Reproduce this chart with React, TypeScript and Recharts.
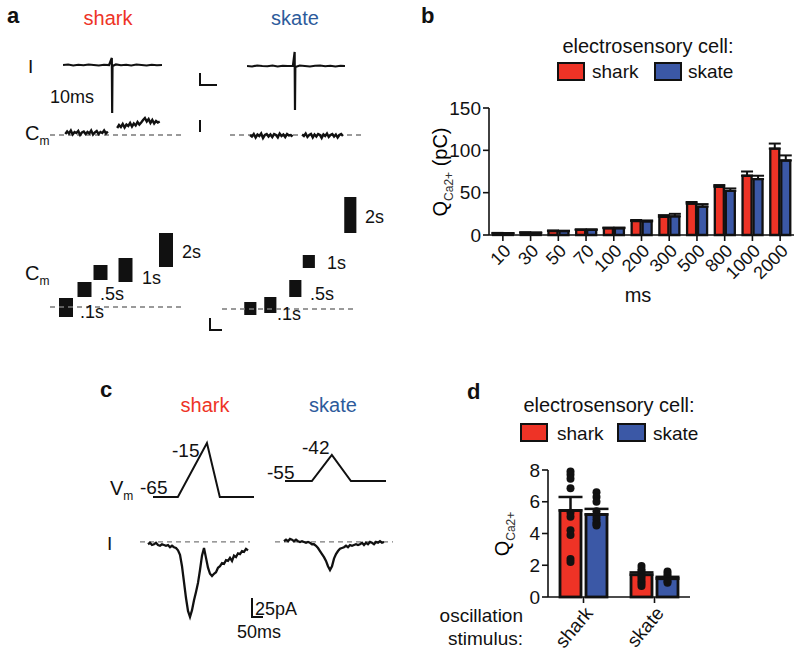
import React from 'react';
import {
  BarChart, Bar, LineChart, Line, XAxis, YAxis, ErrorBar, ReferenceLine,
} from 'recharts';

// ---- panel b: charge vs pulse duration ----
const msLabels = ['10', '30', '50', '70', '100', '200', '300', '500', '800', '1000', '2000'];
const sharkQ = [2, 2.7, 4.7, 6, 8, 16.5, 21.5, 37, 57, 70, 102];
const skateQ = [1.8, 2.5, 4.5, 6, 8, 16, 22, 33.5, 52, 66, 88];
const sharkQErr = [0.5, 0.5, 0.6, 0.7, 0.8, 1.2, 2, 2, 2, 5, 6];
const skateQErr = [0.5, 0.5, 0.6, 0.7, 0.8, 1.2, 3, 3, 3, 4, 6];

// ---- panel d: charge for oscillation stimulus ----
const stimulusLabels = ['shark', 'skate'];
const sharkCellQ = [5.45, 1.4];
const skateCellQ = [5.2, 1.15];
const sharkCellErr = [0.85, 0.15];
const skateCellErr = [0.35, 0.12];
const sharkCellDots = [
  [7.9, 7.7, 7.45, 6.85, 5.3, 5.05, 4.2, 3.9, 2.4, 2.2],
  [1.95, 1.75, 1.6, 1.45, 1.3, 1.15, 1.0, 0.85, 0.7],
];
const skateCellDots = [
  [6.6, 6.3, 6.0, 5.4, 5.1, 4.9, 4.7, 4.6, 4.5],
  [1.6, 1.45, 1.3, 1.15, 1.0, 0.9],
];

// ---- panel a: single pulse current (ms, pA) ----
const iTopShark: [number, number][] = [
  [0, 0], [3, 10], [6, -10], [9, 5], [12, -5], [15, 10], [18, 0], [21, -10], [24, 5], [27, 0],
  [28.6, 140], [28.8, -960], [29, -20], [31, 10], [34, -5], [37, 5], [40, -10], [43, 10],
  [46, 0], [49, -10], [52, 5], [55, -5], [58, 0],
];
const iTopSkate: [number, number][] = [
  [0, 0], [3, -10], [6, 10], [9, 0], [12, -5], [15, 10], [18, -10], [21, 5], [24, 0], [27, 5],
  [28.0, 280], [28.2, -880], [28.4, -20], [31, 10], [34, 0], [37, -10], [40, 5], [43, 10],
  [46, -5], [49, 5], [52, -10], [55, 5], [57.6, 0],
];

// ---- panel a: capacitance before / after pulse (fF) ----
const cmSharkBefore = [2, 7, 3, 9, 1, 6, 4, 8, 0, 5, 7, 2, 6, 3, 9, 1, 5, 8, 2, 6, 4, 9, 3, 7];
const cmSharkAfter = [14, 20, 16, 22, 15, 21, 18, 24, 17, 23, 19, 26, 21, 25, 30, 34, 27, 32, 24, 30, 23, 28, 25, 27];
const cmSkateBefore = [0, -3, 2, -5, 1, -2, 3, -6, 0, 2, -3, 1, -4, 2, 0, -5, 3, -2, 1, -4, 2, -1, 0, -3];
const cmSkateAfter = [1, -2, 3, -4, 0, 2, -5, 1, -3, 2, 0, -6, 1, -2, 3, -4, 0, 2, -3, 1, -5, 0, 2, -2];

// ---- panel a: capacitance steps for .1s ... 2s pulses ----
const stepSharkT = [1.6, 3.45, 5.05, 7.55, 11.6];
const stepSharkCm: [number, number][] = [[-20, 18], [20, 50], [54, 84], [50, 98], [80, 148]];
const stepSkateT = [2.8, 4.8, 7.3, 8.65, 12.8];
const stepSkateCm: [number, number][] = [[-12, 14], [-8, 24], [24, 58], [82, 108], [152, 224]];

// ---- panel c: voltage commands (ms, mV) ----
const vmSharkT = [0, 112, 243, 301, 455];
const vmSharkV = [-65, -65, -15, -65, -65];
const vmSkateT = [0, 121, 211, 297, 455];
const vmSkateV = [-55, -55, -42, -55, -55];

// ---- panel c: evoked currents, 9 ms sampling (pA) ----
const iSharkC = [
  -3, -1, -4, -3, -1, -4, -5, -3, -4, -5, -4, -7, -5, -7, -8, -11, -17, -32, -53, -74, -91, -99,
  -90, -77, -66, -54, -37, -18, -8, -21, -34, -42, -45, -42, -40, -34, -32, -28, -29, -24, -25,
  -21, -25, -18, -20, -15, -16, -12, -13, -9, -11,
];
const iSkateC = [
  1, 3, 1, 4, 3, 1, 3, 1, 0, 1, 0, -1, 0, -1, -3, -3, -5, -8, -12, -16, -20, -25, -32, -37, -32,
  -22, -16, -12, -9, -8, -7, -5, -7, -4, -5, -4, -3, -4, -3, -1, -4, -1, -3, 0, -1, -3, 0, -1, 1,
  -1, 0,
];

const RED = '#ee3326';
const BLUE = '#3b58a6';
const INK = '#111';
const FONT = '"Liberation Sans", Arial, Helvetica, sans-serif';

const seg = (start: number, dt: number, vals: number[]) => vals.map((v, i) => ({ t: start + i * dt, v }));
const pairs = (ts: number[], vs: number[]) => ts.map((t, i) => ({ t, v: vs[i] }));

const qData = msLabels.map((ms, i) => ({
  ms, shark: sharkQ[i], skate: skateQ[i],
  sharkErr: [0, sharkQErr[i]], skateErr: [0, skateQErr[i]],
}));
const dData = stimulusLabels.map((s, i) => ({
  s, shark: sharkCellQ[i], skate: skateCellQ[i],
  sharkErr: [0, sharkCellErr[i]], skateErr: [0, skateCellErr[i]],
  sharkDots: sharkCellDots[i], skateDots: skateCellDots[i],
}));

type TP = { x: number; y: number; size?: number; color?: string; bold?: boolean; anchor?: 'start' | 'middle' | 'end'; children: React.ReactNode };
const T = ({ x, y, size = 19, color = INK, bold, anchor = 'start', children }: TP) => {
  const tx = anchor === 'start' ? '0' : anchor === 'middle' ? '-50%' : '-100%';
  return (
    <div style={{
      position: 'absolute', left: x, top: y, transform: `translate(${tx},-50%)`, fontSize: size,
      lineHeight: 1, color, fontWeight: bold ? 700 : 400, whiteSpace: 'nowrap',
    }}>{children}</div>
  );
};
const Sub = ({ children }: { children: React.ReactNode }) => (
  <span style={{ fontSize: '0.6em', position: 'relative', top: '0.4em' }}>{children}</span>
);
const Box = ({ x, y, w, h, color }: { x: number; y: number; w: number; h: number; color: string }) => (
  <div style={{ position: 'absolute', left: x, top: y, width: w, height: h, background: color, border: `2.5px solid ${INK}`, boxSizing: 'border-box' }} />
);
const ScaleL = ({ x, y, w, h, bottom = true }: { x: number; y: number; w: number; h: number; bottom?: boolean }) => (
  <div style={{
    position: 'absolute', left: x, top: y, width: w, height: h, boxSizing: 'border-box',
    borderLeft: `2px solid ${INK}`, borderBottom: bottom ? `2px solid ${INK}` : 'none',
  }} />
);

type TraceProps = {
  left: number; top: number; width: number; height: number;
  data: { t: number; v: number | null }[]; xDomain: [number, number]; yDomain: [number, number];
  baseline?: boolean; sw?: number;
};
const Trace = ({ left, top, width, height, data, xDomain, yDomain, baseline, sw = 2 }: TraceProps) => (
  <div style={{ position: 'absolute', left, top }}>
    <LineChart width={width} height={height} data={data} margin={{ top: 0, right: 0, bottom: 0, left: 0 }}>
      <XAxis type="number" dataKey="t" domain={xDomain} hide allowDataOverflow />
      <YAxis type="number" domain={yDomain} hide allowDataOverflow />
      {baseline && <ReferenceLine y={0} stroke="#7a7a7a" strokeWidth={1.3} strokeDasharray="5 4" />}
      <Line dataKey="v" stroke={INK} strokeWidth={sw} dot={false} isAnimationActive={false} connectNulls={false} strokeLinejoin="miter" />
    </LineChart>
  </div>
);

type StepProps = { left: number; top: number; width: number; height: number; ts: number[]; cm: [number, number][]; xDomain: [number, number]; yDomain: [number, number] };
const Steps = ({ left, top, width, height, ts, cm, xDomain, yDomain }: StepProps) => (
  <div style={{ position: 'absolute', left, top }}>
    <BarChart width={width} height={height} data={ts.map((t, i) => ({ t, cm: cm[i] }))} margin={{ top: 0, right: 0, bottom: 0, left: 0 }}>
      <XAxis type="number" dataKey="t" domain={xDomain} hide allowDataOverflow />
      <YAxis type="number" domain={yDomain} hide allowDataOverflow />
      <ReferenceLine y={0} stroke="#7a7a7a" strokeWidth={1.3} strokeDasharray="5 4" />
      <Bar dataKey="cm" barSize={14} fill={INK} isAnimationActive={false} />
    </BarChart>
  </div>
);

const axisStyle = { stroke: INK, strokeWidth: 1.6 };
const tickFont = { fill: INK, fontSize: 19, fontFamily: FONT };

const DotBar = (color: string, valueKey: 'shark' | 'skate', dotsKey: 'sharkDots' | 'skateDots') => (props: any) => {
  const { x, y, width, height, payload } = props;
  const v = payload[valueKey];
  const k = height / v;
  const base = y + height;
  return (
    <g>
      <rect x={x} y={y} width={width} height={height} fill={color} stroke={INK} strokeWidth={2.8} />
      {payload[dotsKey].map((d: number, i: number) => (
        <circle key={i} cx={x + width / 2} cy={base - d * k} r={4} fill={INK} />
      ))}
    </g>
  );
};

export default function App() {
  return (
    <div style={{ position: 'absolute', left: 0, top: 0, width: 800, height: 661, background: '#fff', fontFamily: FONT, overflow: 'hidden' }}>
      {/* ===== panel a ===== */}
      <T x={7} y={16} size={22} bold>a</T>
      <T x={108} y={18} size={20} color={RED} anchor="middle">shark</T>
      <T x={295} y={18} size={20} color="#2d5b9b" anchor="middle">skate</T>
      <T x={28} y={66} size={19}>I</T>
      <T x={50} y={97} size={18}>10ms</T>
      <T x={25} y={133} size={20}>C<Sub>m</Sub></T>
      <ScaleL x={199} y={73} w={18} h={13} />
      <ScaleL x={199} y={120} w={2} h={12} bottom={false} />

      <Trace left={63} top={50} width={99} height={68} data={iTopShark.map(([t, v]) => ({ t, v }))} xDomain={[0, 58]} yDomain={[-1060, 300]} sw={2.2} />
      <Trace left={247} top={51} width={98} height={68} data={iTopSkate.map(([t, v]) => ({ t, v }))} xDomain={[0, 57.6]} yDomain={[-1060, 300]} sw={2.2} />
      <Trace left={50} top={110} width={133} height={40} baseline
        data={[...seg(9, 25 / 23, cmSharkBefore), { t: 36.7, v: null }, ...seg(39.5, 25 / 23, cmSharkAfter)]}
        xDomain={[0, 78.2]} yDomain={[-30, 50]} sw={2.4} />
      <Trace left={230} top={110} width={132} height={40} baseline
        data={[...seg(11.8, 25 / 23, cmSkateBefore), { t: 39.7, v: null }, ...seg(42.4, 24 / 23, cmSkateAfter)]}
        xDomain={[0, 77.6]} yDomain={[-30, 50]} sw={2.4} />

      <T x={25} y={273} size={20}>C<Sub>m</Sub></T>
      <Steps left={50} top={230} width={133} height={90} ts={stepSharkT} cm={stepSharkCm} xDomain={[0, 13.3]} yDomain={[-26, 154]} />
      <Steps left={222} top={194} width={135} height={126} ts={stepSkateT} cm={stepSkateCm} xDomain={[0, 13.5]} yDomain={[-22, 230]} />
      <T x={80} y={312} size={18}>.1s</T>
      <T x={100} y={294} size={18}>.5s</T>
      <T x={142} y={278} size={18}>1s</T>
      <T x={182} y={252} size={18}>2s</T>
      <T x={277} y={314} size={18}>.1s</T>
      <T x={310} y={294} size={18}>.5s</T>
      <T x={327} y={263} size={18}>1s</T>
      <T x={365} y={217} size={18}>2s</T>
      <ScaleL x={209} y={318} w={13} h={13} />

      {/* ===== panel b ===== */}
      <T x={421} y={16} size={22} bold>b</T>
      <T x={648} y={46} size={20} anchor="middle">electrosensory cell:</T>
      <Box x={557} y={62} w={28} h={19} color={RED} />
      <T x={592} y={71} size={19}>shark</T>
      <Box x={654} y={62} w={28} h={19} color={BLUE} />
      <T x={688} y={71} size={19}>skate</T>
      <div style={{ position: 'absolute', left: 440, top: 172, transform: 'translate(-50%,-50%) rotate(-90deg)', fontSize: 20, lineHeight: 1, whiteSpace: 'nowrap' }}>
        Q<span style={{ fontSize: 12, position: 'relative', top: 6, color: '#333' }}>Ca2+</span> (pC)
      </div>
      <div style={{ position: 'absolute', left: 430, top: 95 }}>
        <BarChart width={370} height={200} data={qData} margin={{ top: 13, right: 6, bottom: 5, left: 14 }} barSize={9} barGap={2}>
          <XAxis dataKey="ms" interval={0} angle={-45} textAnchor="end" height={55} tick={{ ...tickFont, fontSize: 18 }}
            axisLine={axisStyle} tickLine={axisStyle} tickSize={6} />
          <YAxis domain={[0, 150]} ticks={[0, 50, 100, 150]} width={45} tick={tickFont}
            axisLine={axisStyle} tickLine={axisStyle} tickSize={6} />
          <Bar dataKey="shark" fill={RED} stroke={INK} strokeWidth={2.3} isAnimationActive={false}>
            <ErrorBar dataKey="sharkErr" width={6} strokeWidth={2} stroke={INK} direction="y" />
          </Bar>
          <Bar dataKey="skate" fill={BLUE} stroke={INK} strokeWidth={2.3} isAnimationActive={false}>
            <ErrorBar dataKey="skateErr" width={6} strokeWidth={2} stroke={INK} direction="y" />
          </Bar>
        </BarChart>
      </div>
      <T x={638} y={295} size={20} anchor="middle">ms</T>

      {/* ===== panel c ===== */}
      <T x={100} y={390} size={22} bold>c</T>
      <T x={205} y={405} size={20} color={RED} anchor="middle">shark</T>
      <T x={333} y={405} size={20} color="#2d5b9b" anchor="middle">skate</T>
      <T x={172} y={450} size={19}>-15</T>
      <T x={140} y={487} size={19}>-65</T>
      <T x={110} y={488} size={20}>V<Sub>m</Sub></T>
      <T x={302} y={447} size={19}>-42</T>
      <T x={267} y={472} size={19}>-55</T>
      <Trace left={153} top={440} width={101} height={60} data={pairs(vmSharkT, vmSharkV)} xDomain={[0, 455]} yDomain={[-67.8, -12.2]} />
      <Trace left={285} top={452} width={101} height={32} data={pairs(vmSkateT, vmSkateV)} xDomain={[0, 455]} yDomain={[-56.5, -40.5]} />
      <T x={107} y={543} size={19}>I</T>
      <Trace left={140} top={530} width={110} height={95} baseline data={seg(0, 9, iSharkC)} xDomain={[-36, 459]} yDomain={[-109.6, 15.8]} sw={2.3} />
      <Trace left={275} top={530} width={118} height={95} baseline data={seg(0, 9, iSkateC)} xDomain={[-40.5, 490.5]} yDomain={[-109.6, 15.8]} sw={2.3} />
      <ScaleL x={251} y={598} w={12} h={20} />
      <T x={255} y={609} size={18}>25pA</T>
      <T x={237} y={632} size={18}>50ms</T>

      {/* ===== panel d ===== */}
      <T x={467} y={392} size={22} bold>d</T>
      <T x={609} y={405} size={20} anchor="middle">electrosensory cell:</T>
      <Box x={520} y={423} w={28} h={19} color={RED} />
      <T x={557} y={433} size={19}>shark</T>
      <Box x={617} y={423} w={29} h={19} color={BLUE} />
      <T x={653} y={433} size={19}>skate</T>
      <div style={{ position: 'absolute', left: 502, top: 534, transform: 'translate(-50%,-50%) rotate(-90deg)', fontSize: 20, lineHeight: 1, whiteSpace: 'nowrap' }}>
        Q<span style={{ fontSize: 12, position: 'relative', top: 6, color: '#333' }}>Ca2+</span>
      </div>
      <div style={{ position: 'absolute', left: 480, top: 455 }}>
        <BarChart width={220} height={200} data={dData} margin={{ top: 15, right: 10, bottom: 8, left: 28 }} barSize={21} barGap={5}>
          <XAxis dataKey="s" interval={0} angle={-50} textAnchor="end" height={50} tick={tickFont}
            axisLine={axisStyle} tickLine={axisStyle} tickSize={6} />
          <YAxis domain={[0, 8]} ticks={[0, 2, 4, 6, 8]} width={40} tick={tickFont}
            axisLine={axisStyle} tickLine={axisStyle} tickSize={6} />
          <Bar dataKey="shark" fill={RED} isAnimationActive={false} shape={DotBar(RED, 'shark', 'sharkDots')}>
            <ErrorBar dataKey="sharkErr" width={12} strokeWidth={2.5} stroke={INK} direction="y" />
          </Bar>
          <Bar dataKey="skate" fill={BLUE} isAnimationActive={false} shape={DotBar(BLUE, 'skate', 'skateDots')}>
            <ErrorBar dataKey="skateErr" width={12} strokeWidth={2.5} stroke={INK} direction="y" />
          </Bar>
        </BarChart>
      </div>
      <T x={523} y={615} size={19} anchor="end">oscillation</T>
      <T x={523} y={638} size={19} anchor="end">stimulus:</T>
    </div>
  );
}
